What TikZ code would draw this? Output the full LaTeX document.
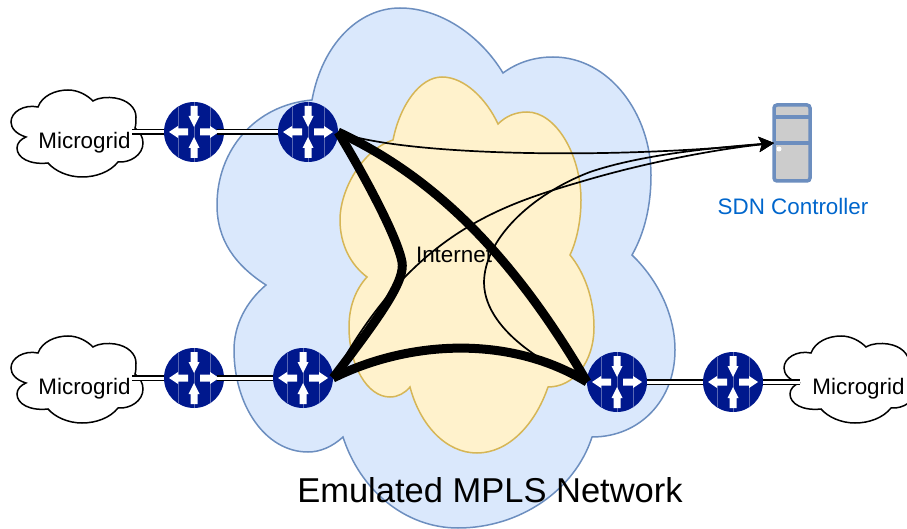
\documentclass[tikz,border=0pt]{standalone}
\usepackage{fontspec}
\setmainfont{Liberation Sans}
\usetikzlibrary{arrows.meta}
\definecolor{bluefill}{HTML}{DAE8FC}
\definecolor{bluestroke}{HTML}{6C8EBF}
\definecolor{yelfill}{HTML}{FFF2CC}
\definecolor{yelstroke}{HTML}{D6B656}
\definecolor{routerblue}{HTML}{00188D}
\definecolor{sdnblue}{HTML}{0066CC}
\tikzset{
  routerbase/.style={circle,fill=routerblue,minimum size=60,inner sep=0,outer sep=0},
  lab/.style={inner sep=0,outer sep=0,anchor=base,text=black,font=\fontsize{22.4}{26}\selectfont},
  dbl/.style={draw=black,line width=1.7,double=white,double distance=3},
  thick edge/.style={draw=black,line width=9,line join=miter},
  thin edge/.style={draw=black,line width=1.7,-{Stealth[length=15,width=15,inset=3]}},
  cloudline/.style={draw=black,line width=1.5,fill=white},
}
\newcommand{\routerat}[2]{%
  \node[routerbase] (#1) at (#2) {};
  \begin{scope}[shift={(#1.center)}]
    \draw[white,opacity=.35,line width=.5] (-16,-25.3)--(-16,25.3) (0,-30)--(0,30) (16,-25.3)--(16,25.3);
    \foreach \a in {0,180}{
      \fill[white,rotate=\a] (-3.5,-26)--(3.5,-26)--(3.5,-16)--(5.5,-16)--(0,-5)--(-5.5,-16)--(-3.5,-16)--cycle;
      \fill[white,rotate=\a] (6,-3.5)--(16,-3.5)--(16,-6)--(25,0)--(16,6)--(16,3.5)--(6,3.5)--cycle;
    }
  \end{scope}}
\newcommand{\cloudat}[2]{%
  \draw[cloudline,shift={(#1,#2)}] (38,107)
    .. controls (42,96) and (55,90) .. (68,90)
    .. controls (78,90) and (87,95) .. (93,101)
    .. controls (100,97) and (108,97) .. (115,98)
    .. controls (128,100) and (136,108) .. (136,117)
    .. controls (136,121) and (136,125) .. (135,128)
    .. controls (140,132) and (143,137) .. (143,143)
    .. controls (143,155) and (130,163) .. (118,162)
    .. controls (110,172) and (96,177) .. (82,177)
    .. controls (68,177) and (55,171) .. (48,163)
    .. controls (30,165) and (17,158) .. (17,148)
    .. controls (17,143) and (21,139) .. (26,137)
    .. controls (16,134) and (11,128) .. (11,122)
    .. controls (11,112) and (24,104) .. (38,107) -- cycle;}
\begin{document}
\begin{tikzpicture}[x=1pt,y=-1pt]
\useasboundingbox (0,0) rectangle (907,529);
% clouds of the network
\draw[fill=bluefill,draw=bluestroke,line width=1.5] (312,100)
  .. controls (322,45) and (358,8) .. (400,8)
  .. controls (440,8) and (480,35) .. (503,73)
  .. controls (518,62) and (535,57) .. (553,57)
  .. controls (610,57) and (651,115) .. (651,175)
  .. controls (651,205) and (645,232) .. (632,255)
  .. controls (658,280) and (675,315) .. (675,350)
  .. controls (675,400) and (640,437) .. (592,437)
  .. controls (575,490) and (520,528) .. (458,528)
  .. controls (405,528) and (360,490) .. (343,437)
  .. controls (332,447) and (320,452) .. (308,452)
  .. controls (265,452) and (234,405) .. (234,350)
  .. controls (234,325) and (246,302) .. (266,285)
  .. controls (235,265) and (217,240) .. (217,205)
  .. controls (217,150) and (255,105) .. (312,100) -- cycle;
\draw[fill=yelfill,draw=yelstroke,line width=1.5] (393,140)
  .. controls (400,105) and (420,77) .. (442,77)
  .. controls (465,77) and (487,100) .. (498,124)
  .. controls (506,116) and (516,112) .. (527,112)
  .. controls (556,112) and (581,155) .. (581,200)
  .. controls (581,220) and (577,240) .. (570,255)
  .. controls (584,272) and (594,298) .. (594,327)
  .. controls (594,362) and (574,387) .. (548,387)
  .. controls (535,425) and (508,453) .. (477,453)
  .. controls (446,453) and (420,425) .. (410,387)
  .. controls (405,393) and (398,397) .. (390,397)
  .. controls (367,397) and (349,365) .. (349,327)
  .. controls (349,306) and (356,289) .. (367,277)
  .. controls (351,265) and (340,245) .. (340,220)
  .. controls (340,190) and (362,150) .. (393,140) -- cycle;
% microgrid clouds
\cloudat{0}{0}
\cloudat{0}{246}
\cloudat{773}{246}
\node[lab] (m1) at (84.5,149) {Microgrid};
\node[lab] (m2) at (84.5,394) {Microgrid};
\node[lab] (m3) at (858.5,394) {Microgrid};
\node[lab] (inet) at (454,262) {Internet};
% routers
\routerat{r1}{194,132}
\routerat{r2}{308,132}
\routerat{r3}{194,378}
\routerat{r4}{303,378}
\routerat{r5}{617,382}
\routerat{r6}{733,382}
% server
\node[draw=bluestroke,fill=black!20,line width=3.5,rounded corners=3,minimum width=36,minimum height=76,inner sep=0,outer sep=0] (srv) at (792,143) {};
\draw[bluestroke,line width=3.5] (srv.west)--(srv.east) ([yshift=26]srv.west)--([yshift=26]srv.east);
\fill[white] (779,149) circle (2.5);
\node[lab,text=sdnblue] (sdn) at (793,215) {SDN Controller};
% access links
\coordinate (c1) at (132,132);
\coordinate (c2) at (132,378);
\coordinate (c3) at (800,382);
\draw[dbl] (c1) -- (r1.west);
\draw[dbl] ([xshift=-7]r1.east) -- (r2.west);
\draw[dbl] (c2) -- (r3.west);
\draw[dbl] ([xshift=-7]r3.east) -- (r4.west);
\draw[dbl] (r5.east) -- (r6.west);
\draw[dbl] (r6.east) -- (c3);
% thin controller links
\draw[thin edge] (r2.east) .. controls (400,155) and (600,160) .. (srv.west);
\draw[thin edge] (r4.east) .. controls (410,235) and (498,206) .. (580,182) .. controls (640,164) and (710,150) .. (srv.west);
\draw[thin edge] (r5.west) .. controls (560,372) and (485,335) .. (484,283) .. controls (484,240) and (530,195) .. (590,172) .. controls (640,155) and (710,148) .. (srv.west);
% thick links
\draw[thick edge] (r2.east) .. controls (370,185) and (398,240) .. (402,262) .. controls (405,280) and (385,310) .. (r4.east);
\draw[thick edge] (r2.east) .. controls (430,175) and (510,250) .. (r5.west);
\draw[thick edge] (r4.east) .. controls (410,340) and (510,335) .. (r5.west);
\node[lab,font=\fontsize{34.5}{40}\selectfont] (mpls) at (490,502.5) {Emulated MPLS Network};
\end{tikzpicture}
\end{document}
